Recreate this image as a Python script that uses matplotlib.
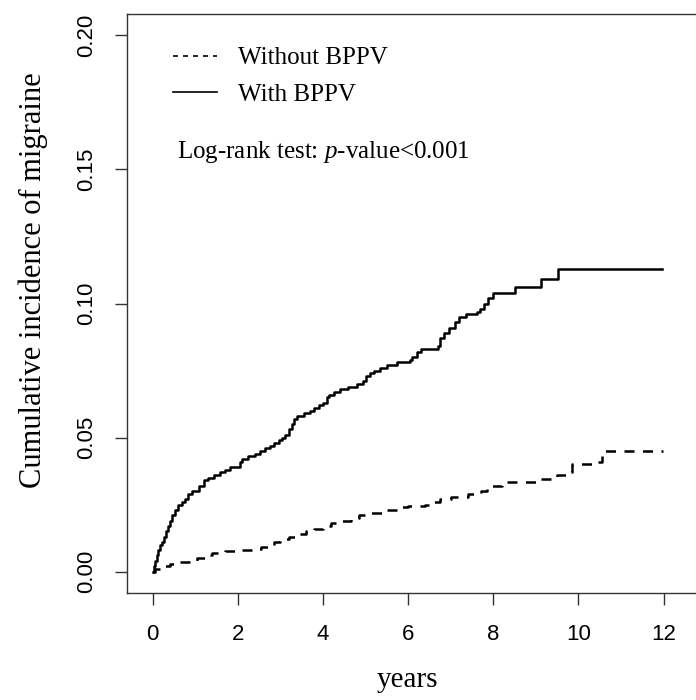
import matplotlib
matplotlib.use("Agg")
import matplotlib.pyplot as plt

# ---------------------------------------------------------------- data
# with BPPV (solid step curve)
t_with = [0.00, 0.03, 0.06, 0.10, 0.13, 0.17, 0.22, 0.27, 0.32, 0.36, 0.41,
          0.46, 0.52, 0.60, 0.68, 0.76, 0.84, 0.92, 1.10, 1.20, 1.30, 1.45,
          1.58, 1.70, 1.82, 2.05, 2.10, 2.25, 2.40, 2.52, 2.65, 2.75, 2.86,
          2.97, 3.05, 3.12, 3.20, 3.28, 3.33, 3.40, 3.55, 3.70, 3.80, 3.90,
          4.00, 4.10, 4.15, 4.25, 4.40, 4.60, 4.80, 4.95, 5.02, 5.10, 5.20,
          5.35, 5.50, 5.75, 6.05, 6.10, 6.20, 6.30, 6.70, 6.75, 6.85, 6.95,
          7.10, 7.20, 7.35, 7.62, 7.68, 7.78, 7.88, 8.00, 8.50, 9.12, 9.52,
          11.96]
ci_with = [0.000, 0.002, 0.004, 0.006, 0.008, 0.010, 0.011, 0.013, 0.015,
           0.017, 0.019, 0.021, 0.023, 0.025, 0.026, 0.027, 0.029, 0.030,
           0.032, 0.034, 0.035, 0.036, 0.037, 0.038, 0.039, 0.041, 0.042,
           0.043, 0.044, 0.045, 0.046, 0.047, 0.048, 0.049, 0.050, 0.051,
           0.053, 0.055, 0.057, 0.058, 0.059, 0.060, 0.061, 0.062, 0.063,
           0.065, 0.066, 0.067, 0.068, 0.069, 0.070, 0.071, 0.073, 0.074,
           0.075, 0.076, 0.077, 0.078, 0.079, 0.080, 0.082, 0.083, 0.084,
           0.087, 0.089, 0.091, 0.093, 0.095, 0.096, 0.097, 0.098, 0.100,
           0.102, 0.104, 0.106, 0.109, 0.113, 0.113]

# without BPPV (dashed step curve)
t_without = [0.00, 0.05, 0.20, 0.40, 0.60, 0.85, 1.05, 1.25, 1.40, 1.70,
             2.00, 2.45, 2.55, 2.70, 2.85, 3.00, 3.20, 3.45, 3.60, 3.80,
             4.00, 4.20, 4.45, 4.65, 4.85, 5.10, 5.40, 5.75, 6.00, 6.40,
             6.55, 6.75, 7.00, 7.40, 7.70, 7.85, 7.95, 8.20, 9.10, 9.50,
             9.70, 9.85, 10.35, 10.55, 10.62, 11.98]
ci_without = [0.000, 0.001, 0.002, 0.003, 0.0035, 0.004, 0.005, 0.006,
              0.007, 0.0075, 0.008, 0.0085, 0.009, 0.010, 0.011, 0.012,
              0.013, 0.014, 0.015, 0.016, 0.017, 0.018, 0.019, 0.020,
              0.021, 0.022, 0.023, 0.024, 0.0245, 0.025, 0.026, 0.027,
              0.028, 0.029, 0.030, 0.031, 0.032, 0.0335, 0.0345, 0.036,
              0.037, 0.040, 0.041, 0.043, 0.0448, 0.0448]

x_ticks = [0, 2, 4, 6, 8, 10, 12]
y_ticks = [0.00, 0.05, 0.10, 0.15, 0.20]
y_ticklabels = ["0.00", "0.05", "0.10", "0.15", "0.20"]

# ---------------------------------------------------------------- style
plt.rcParams["mathtext.fontset"] = "custom"
plt.rcParams["mathtext.rm"] = "Liberation Serif"
plt.rcParams["mathtext.it"] = "Liberation Serif:italic"
SERIF = "Liberation Serif"
SANS = "Liberation Sans"
EDGE = "#333333"

fig = plt.figure(figsize=(6.96, 7.0), dpi=100)
W, H = 696, 700
# plot region runs past the right edge (figure is cropped like the source)
ax = fig.add_axes([127 / W, 1 - 593 / H, (817 - 127) / W, (593 - 14) / H])

l_wo, = ax.step(t_without, ci_without, where="post", color="black",
                lw=1.8, dashes=(4, 3.4), label="Without BPPV")
l_w, = ax.step(t_with, ci_with, where="post", color="black",
               lw=1.8, label="With BPPV")

ax.set_xlim(-0.6, 15.6)
ax.set_ylim(-0.008, 0.208)
ax.set_xticks(x_ticks)
ax.set_yticks(y_ticks)
ax.set_yticklabels(y_ticklabels, rotation=90, va="center")
ax.tick_params(axis="both", direction="out", length=8.6, width=1,
               color=EDGE, labelsize=16)
ax.tick_params(axis="y", pad=13)
ax.tick_params(axis="x", pad=14)
for lab in ax.get_xticklabels() + ax.get_yticklabels():
    lab.set_fontfamily(SANS)
for sp in ax.spines.values():
    sp.set_color(EDGE)
    sp.set_linewidth(1.0)

fig.text(33 / W, 1 - 280 / H, "Cumulative incidence of migraine",
         rotation=90, ha="center", va="center", fontsize=22, family=SERIF)
fig.text(407 / W, 1 - 680 / H, "years", ha="center", va="center",
         fontsize=21, family=SERIF)

leg = ax.legend(handles=[l_wo, l_w], loc="upper left",
                bbox_to_anchor=(173 / W, 1 - 47 / H),
                bbox_transform=fig.transFigure, frameon=False,
                prop={"family": SERIF, "size": 18}, handlelength=1.75,
                handletextpad=0.85, borderpad=0, borderaxespad=0,
                labelspacing=0.55)
leg_lines = leg.get_lines()
for h in leg_lines:
    h.set_linewidth(1.2)
leg_lines[0].set_dashes((3, 3))

fig.text(177 / W, 1 - 152 / H, r"Log-rank test: $\mathit{p}$-value<0.001",
         ha="left", va="center", fontsize=18, family=SERIF)

fig.savefig("out.png", dpi=100)
